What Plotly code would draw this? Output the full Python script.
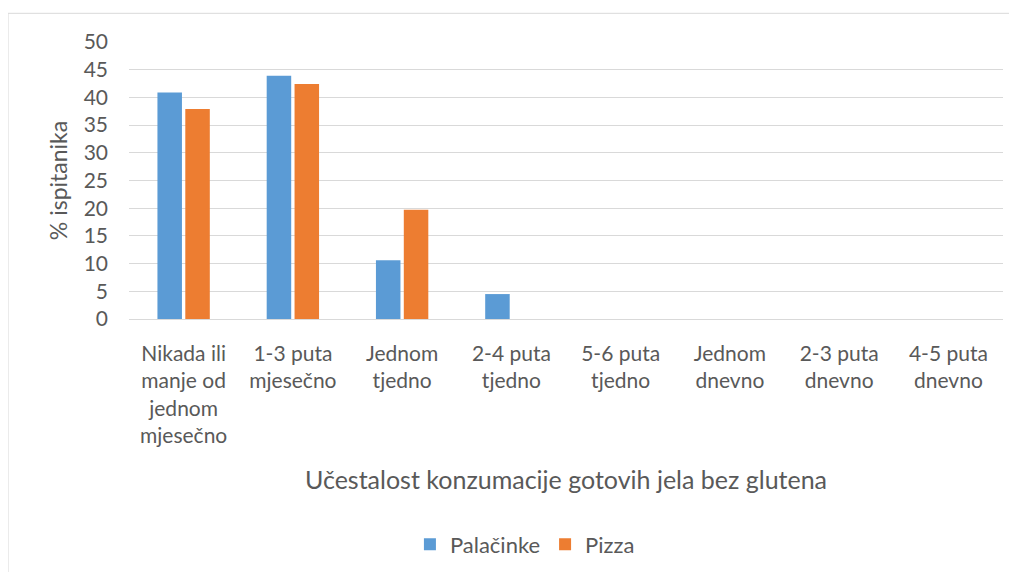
import plotly.graph_objects as go

categories = [
    "Nikada ili<br>manje od<br>jednom<br>mjesečno",
    "1-3 puta<br>mjesečno",
    "Jednom<br>tjedno",
    "2-4 puta<br>tjedno",
    "5-6 puta<br>tjedno",
    "Jednom<br>dnevno",
    "2-3 puta<br>dnevno",
    "4-5 puta<br>dnevno",
]
palacinke = [40.9, 43.9, 10.6, 4.5, 0, 0, 0, 0]
pizza = [37.9, 42.4, 19.7, 0, 0, 0, 0, 0]
y_ticks = [0, 5, 10, 15, 20, 25, 30, 35, 40, 45, 50]

FONT = "Lato, Carlito, Calibri, sans-serif"
TXT = "#595959"
GRID = "#d9d9d9"

fig = go.Figure()
fig.add_trace(go.Bar(x=categories, y=palacinke, name="Palačinke",
                     marker=dict(color="#5b9bd5", line=dict(width=0))))
fig.add_trace(go.Bar(x=categories, y=pizza, name="Pizza",
                     marker=dict(color="#ed7d31", line=dict(width=0))))

# page body has an 8px margin, so the figure is sized/shifted to compensate
fig.update_layout(
    width=1001, height=564,
    margin=dict(l=121, r=6, t=34, b=250),
    paper_bgcolor="white", plot_bgcolor="white",
    font=dict(family=FONT, size=21, color=TXT),
    barmode="group", bargap=0.49, bargroupgap=0.12,
    showlegend=True,
    legend=dict(orientation="h", x=0.453, xanchor="center", y=-0.814, yanchor="middle",
                font=dict(size=22, color=TXT), itemwidth=30, traceorder="normal"),
    annotations=[dict(
        text="Učestalost konzumacije gotovih jela bez glutena",
        xref="paper", yref="paper", x=0.5, y=-0.579,
        xanchor="center", yanchor="middle", showarrow=False,
        font=dict(size=25, color=TXT))],
    shapes=[dict(type="rect", xref="paper", yref="paper",
                 x0=-0.1384, x1=1.05, y0=-1.2, y1=1.1036,
                 line=dict(color=GRID, width=1), layer="below")],
)

fig.update_xaxes(
    type="category", showgrid=False, showline=False, zeroline=False,
    ticks="", ticklabelstandoff=20, tickangle=0,
    tickfont=dict(size=21, color=TXT),
)
fig.update_yaxes(
    range=[0, 50], tickvals=y_ticks, showgrid=True, gridcolor=GRID, gridwidth=1.3,
    zeroline=True, zerolinecolor=GRID, zerolinewidth=1.3,
    showline=False, ticks="", ticklabelstandoff=20,
    tickfont=dict(size=21, color=TXT),
    title=dict(text="% ispitanika", font=dict(size=23, color=TXT), standoff=9),
)

fig.write_html("out.html")
